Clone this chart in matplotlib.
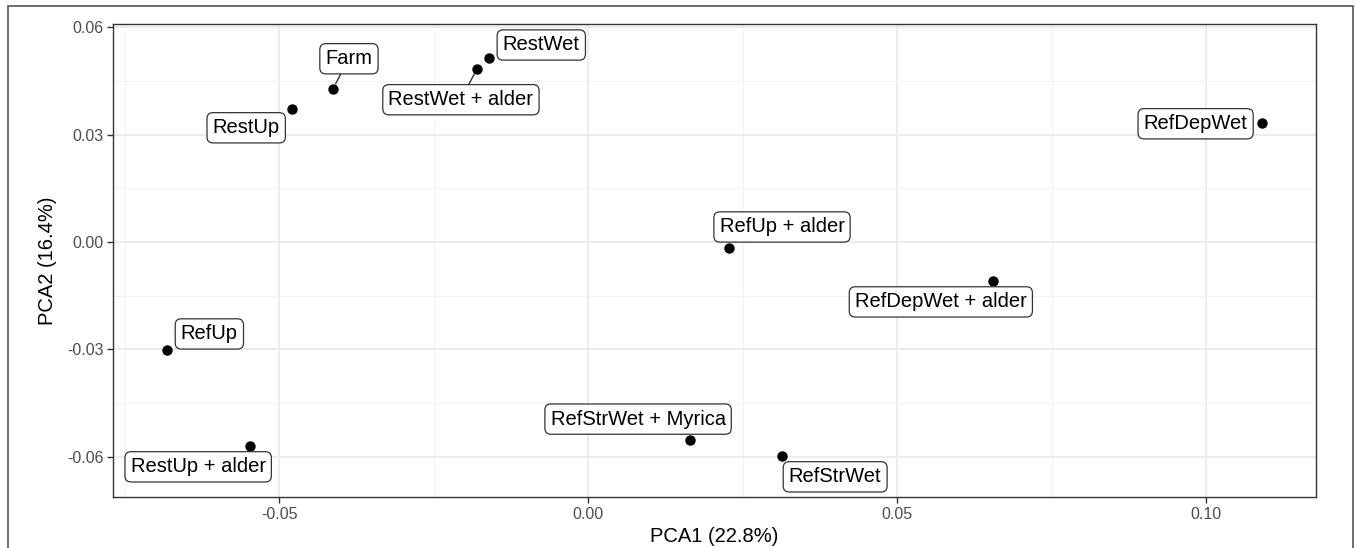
import matplotlib
matplotlib.use('Agg')
import matplotlib.pyplot as plt
from matplotlib.patches import Rectangle
from matplotlib.ticker import FixedLocator

plt.rcParams['font.family'] = ['Liberation Sans', 'DejaVu Sans']

# PCA scores
sites = ['Farm', 'RestUp', 'RestWet + alder', 'RestWet', 'RefUp', 'RestUp + alder',
         'RefUp + alder', 'RefDepWet + alder', 'RefDepWet', 'RefStrWet + Myrica', 'RefStrWet']
pca1 = [-0.0413, -0.0479, -0.0180, -0.0160, -0.0681, -0.0547,
        0.0228, 0.0655, 0.1090, 0.0165, 0.0314]
pca2 = [0.0428, 0.0372, 0.0484, 0.0514, -0.0302, -0.0570,
        -0.0017, -0.0109, 0.0333, -0.0554, -0.0598]

# label offsets (pixels) from each point, like ggrepel placed them
label_offsets = {
    'Farm': (16, 30), 'RestUp': (-46, -19), 'RestWet + alder': (-16, -31),
    'RestWet': (52, 13), 'RefUp': (42, 16), 'RestUp + alder': (-52, -21),
    'RefUp + alder': (53, 21), 'RefDepWet + alder': (-52, -21),
    'RefDepWet': (-66, -1), 'RefStrWet + Myrica': (-52, 21), 'RefStrWet': (53, -21),
}
with_segment = ['Farm', 'RestWet + alder']

fig = plt.figure(figsize=(13.56, 5.48), dpi=100)
ax = fig.add_axes([113 / 1356, 1 - 497 / 548, (1316 - 113) / 1356, (497 - 24) / 548])

# outer frame around the figure
fig.patches.append(Rectangle((8 / 1356, -0.02), (1353 - 8) / 1356, 1 - 6 / 548 + 0.02,
                             transform=fig.transFigure, fill=False,
                             edgecolor='#555555', linewidth=1.2))

ax.scatter(pca1, pca2, s=42, color='black', zorder=3)

for name, x, y in zip(sites, pca1, pca2):
    dx, dy = label_offsets[name]
    arrow = None
    if name in with_segment:
        arrow = dict(arrowstyle='-', color='#333333', lw=1, shrinkA=0, shrinkB=4)
    ax.annotate(name, (x, y), xytext=(dx, dy), textcoords='offset pixels',
                ha='center', va='center', fontsize=14.5, color='black', zorder=4,
                bbox=dict(boxstyle='round,pad=0.28,rounding_size=0.3', fc='white',
                          ec='#333333', lw=0.9),
                arrowprops=arrow)

ax.set_xlim(-0.0769, 0.1178)
ax.set_ylim(-0.0713, 0.0609)
ax.xaxis.set_major_locator(FixedLocator([-0.05, 0.0, 0.05, 0.10]))
ax.yaxis.set_major_locator(FixedLocator([-0.06, -0.03, 0.0, 0.03, 0.06]))
ax.xaxis.set_minor_locator(FixedLocator([-0.075, -0.025, 0.025, 0.075]))
ax.yaxis.set_minor_locator(FixedLocator([-0.045, -0.015, 0.015, 0.045]))
ax.set_xticklabels(['-0.05', '0.00', '0.05', '0.10'])
ax.set_yticklabels(['-0.06', '-0.03', '0.00', '0.03', '0.06'])

ax.grid(True, which='major', color='#EBEBEB', linewidth=1.3, zorder=0)
ax.grid(True, which='minor', color='#F2F2F2', linewidth=0.8, zorder=0)
ax.set_axisbelow(True)
ax.tick_params(which='major', length=4, width=1, color='#333333',
               labelsize=11.5, labelcolor='#4D4D4D', pad=3)
ax.tick_params(which='minor', length=0)
for sp in ax.spines.values():
    sp.set_color('#333333')
    sp.set_linewidth(1)

ax.set_xlabel('PCA1 (22.8%)', fontsize=14.5, labelpad=4)
ax.set_ylabel('PCA2 (16.4%)', fontsize=14.5, labelpad=7)

plt.savefig('out.png', dpi=100)
plt.close()
